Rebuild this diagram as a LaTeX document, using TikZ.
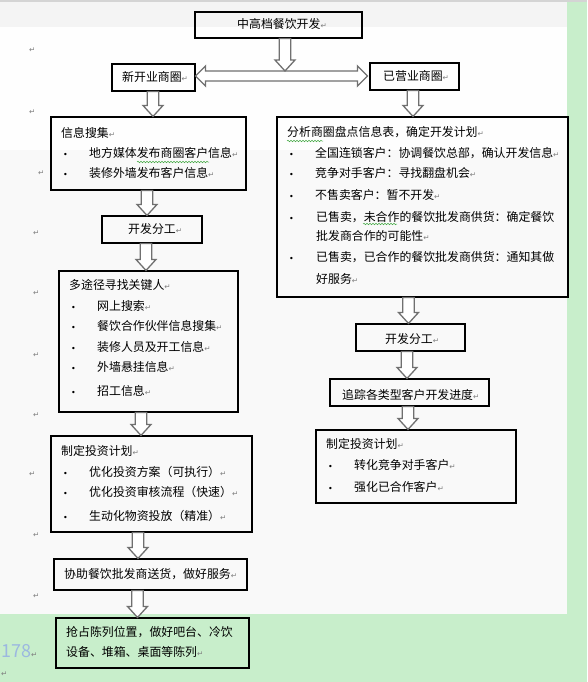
\documentclass[tikz,border=0pt]{standalone}
\usepackage{fontspec}
\newfontfamily\cjk{Noto Sans CJK SC}
\newfontfamily\symfont{DejaVu Sans}
\usetikzlibrary{calc,decorations.pathmorphing}
\definecolor{pagebg}{RGB}{249,249,249}
\definecolor{bandbg}{RGB}{254,254,254}
\definecolor{headbg}{RGB}{244,244,244}
\definecolor{sidegreen}{RGB}{200,238,203}
\definecolor{topgray}{RGB}{212,212,212}
\definecolor{arrowgray}{RGB}{112,112,112}
\definecolor{markgray}{RGB}{128,128,128}
\definecolor{pagenum}{RGB}{156,184,224}
\definecolor{spellgreen}{RGB}{70,170,70}

% paragraph mark and bullet item
\newcommand{\pmark}{{\symfont\fontsize{7.5}{7.5}\selectfont\textcolor{markgray}{↵}}}
\newcommand{\bul}{{\symfont\fontsize{8}{8}\selectfont •}}
\newcommand{\itm}[1]{\makebox[26pt][l]{\bul}#1\pmark}

% block arrow: x centre, start point, tip point
\newcommand{\blkarrow}[3]{%
  \draw[flow] let \p1=(#2), \p2=(#3) in
    (#1pt-5.7pt,\y1) -- (#1pt+5.7pt,\y1) -- (#1pt+5.7pt,\y2+11pt) -- (#1pt+10pt,\y2+11pt)
    -- (#1pt,\y2) -- (#1pt-10pt,\y2+11pt) -- (#1pt-5.7pt,\y2+11pt) -- cycle;}

\begin{document}
\begin{tikzpicture}[x=1pt,y=-1pt,
  box/.style={draw=black,line width=1.1pt,inner sep=0pt},
  flow/.style={draw=arrowgray,fill=white,line width=1.3pt,line join=miter},
  txt/.style={anchor=west,inner sep=0pt,font=\cjk\fontsize{11.9}{14}\selectfont,text height=9.5pt,text depth=2.5pt},
  spell/.style={spellgreen,line width=0.5pt,decorate,decoration={snake,amplitude=0.8pt,segment length=3pt}}]
\useasboundingbox (0,0) rectangle (587,682);

% page background
\fill[sidegreen] (0,0) rectangle (587,682);
\fill[pagebg] (0,2) rectangle (567,614);
\fill[headbg] (0,2) rectangle (567,27);
\fill[bandbg] (0,27) rectangle (567,150);
\fill[topgray] (0,0) rectangle (587,2);

% Boxes
\node[box,minimum width=167pt,minimum height=26pt] (top) at (278.5,25) {};
\node[box,minimum width=83pt,minimum height=27pt] (newarea) at (153.5,77.5) {};
\node[box,minimum width=89pt,minimum height=27pt] (oldarea) at (414.5,76.5) {};
\node[box,minimum width=195pt,minimum height=73pt] (collect) at (148.5,153.5) {};
\node[box,minimum width=291pt,minimum height=180pt] (analyse) at (422.5,207) {};
\node[box,minimum width=100pt,minimum height=27pt] (divl) at (152,229.5) {};
\node[box,minimum width=179pt,minimum height=141pt] (search) at (148.5,341.5) {};
\node[box,minimum width=201pt,minimum height=96pt] (planl) at (151.5,484) {};
\node[box,minimum width=193pt,minimum height=31pt] (assist) at (150.5,574.5) {};
\node[box,minimum width=193pt,minimum height=50pt] (occupy) at (152.5,643) {};
\node[box,minimum width=109pt,minimum height=27pt] (divr) at (410.5,337.5) {};
\node[box,minimum width=159pt,minimum height=27pt] (track) at (409.5,392.5) {};
\node[box,minimum width=200pt,minimum height=73pt] (planr) at (416,466.5) {};

% Double arrow between the two branches
\coordinate (midrow) at (0,76);
\coordinate (split) at (285,71);
\draw[flow] let \p1=(newarea.east), \p2=(oldarea.west), \p3=(midrow) in
  (\x1,\y3) -- (\x1+10pt,\y3+10pt) -- (\x1+10pt,\y3+5pt) -- (\x2-12pt,\y3+5pt) -- (\x2-12pt,\y3+10pt)
  -- (\x2-2pt,\y3) -- (\x2-12pt,\y3-10pt) -- (\x2-12pt,\y3-5pt) -- (\x1+10pt,\y3-5pt) -- (\x1+10pt,\y3-10pt) -- cycle;

% Block arrows
\blkarrow{285}{top.south}{split}
\blkarrow{153}{newarea.south}{collect.north}
\blkarrow{413}{oldarea.south}{analyse.north}
\blkarrow{147}{collect.south}{divl.north}
\blkarrow{146}{divl.south}{search.north}
\blkarrow{141}{search.south}{planl.north}
\blkarrow{138}{planl.south}{assist.north}
\blkarrow{137.5}{assist.south}{occupy.north}
\blkarrow{408.5}{analyse.south}{divr.north}
\blkarrow{407}{divr.south}{track.north}
\blkarrow{408}{track.south}{planr.north}

% Text Node
\node[txt] (ttop) at (237,25) {中高档餐饮开发\pmark};
\node[txt] (tnew) at (122,78) {新开业商圈\pmark};
\node[txt] (told) at (383,77) {已营业商圈\pmark};
% left branch
\node[txt] (tcol) at (61,134) {信息搜集\pmark};
\node[txt] (tcol1) at (63,154) {\itm{地方媒体发布商圈客户信息}};
\node[txt] (tcol2) at (63,174) {\itm{装修外墙发布客户信息}};
\node[txt] (tdivl) at (128,230) {开发分工\pmark};
\node[txt] (tsea) at (69,286) {多途径寻找关键人\pmark};
\node[txt] (tsea1) at (71,307) {\itm{网上搜索}};
\node[txt] (tsea2) at (71,327) {\itm{餐饮合作伙伴信息搜集}};
\node[txt] (tsea3) at (71,348) {\itm{装修人员及开工信息}};
\node[txt] (tsea4) at (71,368) {\itm{外墙悬挂信息}};
\node[txt] (tsea5) at (71,392) {\itm{招工信息}};
\node[txt] (tpll) at (61,452) {制定投资计划\pmark};
\node[txt] (tpll1) at (63,473) {\itm{优化投资方案（可执行）}};
\node[txt] (tpll2) at (63,493) {\itm{优化投资审核流程（快速）}};
\node[txt] (tpll3) at (63,517) {\itm{生动化物资投放（精准）}};
\node[txt] (tass) at (64,575) {协助餐饮批发商送货，做好服务\pmark};
\node[txt] (tocc1) at (66,633) {抢占陈列位置，做好吧台、冷饮};
\node[txt] (tocc2) at (66,653) {设备、堆箱、桌面等陈列\pmark};
% right branch
\node[txt] (tana) at (287,133) {分析商圈盘点信息表，确定开发计划\pmark};
\node[txt] (tana1) at (289,154) {\itm{全国连锁客户：协调餐饮总部，确认开发信息}};
\node[txt] (tana2) at (289,174) {\itm{竞争对手客户：寻找翻盘机会}};
\node[txt] (tana3) at (289,196) {\itm{不售卖客户：暂不开发}};
\node[txt] (tana4) at (289,218) {\makebox[27pt][l]{\bul}已售卖，未合作的餐饮批发商供货：确定餐饮};
\node[txt] (tana4b) at (316,237) {批发商合作的可能性\pmark};
\node[txt] (tana5) at (289,258) {\makebox[27pt][l]{\bul}已售卖，已合作的餐饮批发商供货：通知其做};
\node[txt] (tana5b) at (316,280) {好服务\pmark};
\node[txt] (tdivr) at (385,340) {开发分工\pmark};
\node[txt] (ttrk) at (342,396) {追踪各类型客户开发进度\pmark};
\node[txt] (tplr) at (326,445) {制定投资计划\pmark};
\node[txt] (tplr1) at (328,466) {\itm{转化竞争对手客户}};
\node[txt] (tplr2) at (328,488) {\itm{强化已合作客户}};

% spelling marks
\draw[spell] (137,162) -- (209,162);
\draw[spell] (287,141) -- (323,141);
\draw[spell] (363,224) -- (397,224);

% stray paragraph marks and page number
\foreach \px/\py in {29/50,29/112,38/173,33/233,33/293,33/355,33/415,29/474,33/535,33/596,1/674}
  \node[anchor=west,inner sep=0pt] at (\px,\py) {\pmark};
\node[anchor=west,inner sep=0pt,font=\cjk\fontsize{18}{18}\selectfont,text=pagenum] (pnum) at (1,651) {178\pmark};
\end{tikzpicture}
\end{document}
